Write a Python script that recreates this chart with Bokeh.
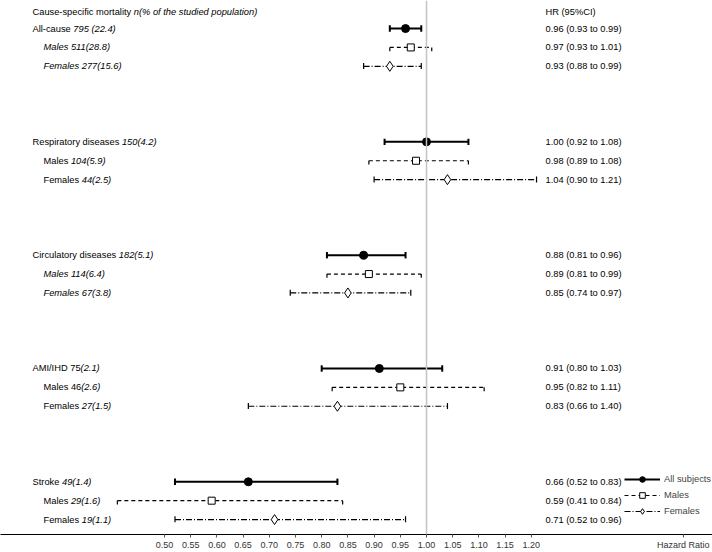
from bokeh.plotting import figure
from bokeh.models import (ColumnDataSource, Range1d, FixedTicker, NumeralTickFormatter,
                          Span, Legend, LegendItem)
from bokeh.core.properties import value
from bokeh.embed import file_html
from bokeh.resources import INLINE

# ---------------- data ----------------
groups = ["All-cause", "Respiratory diseases", "Circulatory diseases", "AMI/IHD", "Stroke"]

hr_all = [0.96, 1.00, 0.88, 0.91, 0.66]
lo_all = [0.93, 0.92, 0.81, 0.80, 0.52]
hi_all = [0.99, 1.08, 0.96, 1.03, 0.83]

hr_m = [0.97, 0.98, 0.89, 0.95, 0.59]
lo_m = [0.93, 0.89, 0.81, 0.82, 0.41]
hi_m = [1.01, 1.08, 0.99, 1.11, 0.84]

hr_f = [0.93, 1.04, 0.85, 0.83, 0.71]
lo_f = [0.88, 0.90, 0.74, 0.66, 0.52]
hi_f = [0.99, 1.21, 0.97, 1.04, 0.96]

ci_all = ["0.96 (0.93 to 0.99)", "1.00 (0.92 to 1.08)", "0.88 (0.81 to 0.96)",
          "0.91 (0.80 to 1.03)", "0.66 (0.52 to 0.83)"]
ci_m = ["0.97 (0.93 to 1.01)", "0.98 (0.89 to 1.08)", "0.89 (0.81 to 0.99)",
        "0.95 (0.82 to 1.11)", "0.59 (0.41 to 0.84)"]
ci_f = ["0.93 (0.88 to 0.99)", "1.04 (0.90 to 1.21)", "0.85 (0.74 to 0.97)",
        "0.83 (0.66 to 1.40)", "0.71 (0.52 to 0.96)"]

# row labels: (upright part, italic part)
lab_all = [("All-cause ", "795 (22.4)"), ("Respiratory diseases ", "150(4.2)"),
           ("Circulatory diseases ", "182(5.1)"), ("AMI/IHD 75", "(2.1)"), ("Stroke ", "49(1.4)")]
lab_m = [("", "Males 511(28.8)"), ("Males ", "104(5.9)"), ("", "Males 114(6.4)"),
         ("Males 46", "(2.6)"), ("Males ", "29(1.6)")]
lab_f = [("", "Females 277(15.6)"), ("Females ", "44(2.5)"), ("", "Females 67(3.8)"),
         ("Females ", "27(1.5)"), ("Females ", "19(1.1)")]

header_left = ("Cause-specific mortality ", "n(% of the studied population)")
header_right = "HR (95%CI)"
x_title = "Hazard Ratio"
legend_labels = ["All subjects", "Males", "Females"]
ticks = [0.50, 0.55, 0.60, 0.65, 0.70, 0.75, 0.80, 0.85, 0.90, 0.95, 1.00, 1.05, 1.10, 1.15, 1.20]
x_title_pos = 1.49

# ---------------- layout ----------------
W_PX, H_PX = 712, 552
PX_PER_UNIT = 524.0
X0 = 0.5 - 164 / PX_PER_UNIT
X1 = X0 + W_PX / PX_PER_UNIT
FRAME_H = 533
ROW_PX = 18.85
ROW1_PX = 28
Y_TOP = 1 - ROW1_PX / ROW_PX
Y_BOT = 1 + (FRAME_H - ROW1_PX) / ROW_PX
FS = 9.3
FONT = "Liberation Sans"

AW = {' ': 278, '(': 333, ')': 333, '%': 889, '-': 333, '.': 278, '/': 278,
      'A': 667, 'C': 722, 'D': 722, 'F': 611, 'H': 722, 'I': 278, 'M': 833, 'R': 722, 'S': 667,
      'a': 556, 'b': 556, 'c': 500, 'd': 556, 'e': 556, 'f': 278, 'g': 556, 'h': 556, 'i': 222,
      'j': 222, 'k': 500, 'l': 222, 'm': 833, 'n': 556, 'o': 556, 'p': 556, 'r': 333, 's': 500,
      't': 278, 'u': 556, 'v': 500, 'w': 722, 'x': 500, 'y': 500}


def tw(s):
    return sum(AW.get(c, 556) for c in s) * FS / 1000.0


p = figure(width=W_PX, height=H_PX, output_backend="svg", toolbar_location=None,
           x_range=Range1d(X0, X1), y_range=Range1d(Y_BOT, Y_TOP),
           min_border=0, min_border_left=0, min_border_right=0, min_border_top=0)
p.outline_line_color = None
p.grid.visible = False
p.yaxis.visible = False
p.background_fill_color = "white"

ax = p.xaxis[0]
ax.ticker = FixedTicker(ticks=ticks + [x_title_pos])
ax.formatter = NumeralTickFormatter(format="0.00")
ax.major_label_overrides = {x_title_pos: x_title}
ax.major_tick_in = 0
ax.major_tick_out = 3
ax.minor_tick_out = 0
ax.minor_tick_in = 0
ax.major_label_standoff = 2
ax.major_label_text_font = FONT
ax.major_label_text_font_size = "9px"
ax.major_label_text_color = "#333333"
ax.axis_line_color = "black"
ax.major_tick_line_color = "#555555"

p.add_layout(Span(location=1.0, dimension="height", line_color="#c4c4c4", line_width=1.5))

n = len(groups)
rows_all = [1 + 6 * i for i in range(n)]
rows_m = [2 + 6 * i for i in range(n)]
rows_f = [3 + 6 * i for i in range(n)]


def series(hr, lo, hi, rows, dash, lw, cap_lo, cap_hi, marker, msize, fill):
    src = ColumnDataSource(dict(hr=hr, lo=lo, hi=hi, y=rows))
    seg = p.segment(x0="lo", x1="hi", y0="y", y1="y", source=src, line_color="black",
                    line_width=lw, line_dash=dash)
    cx = list(lo) + list(hi)
    cy = list(rows) + list(rows)
    csrc = ColumnDataSource(dict(x=cx, y0=[r + cap_lo for r in cy], y1=[r + cap_hi for r in cy]))
    p.segment(x0="x", x1="x", y0="y0", y1="y1", source=csrc, line_color="black",
              line_width=lw, line_dash=dash)
    sc = p.scatter(x="hr", y="y", source=src, marker=marker, size=msize, fill_color=fill,
                   line_color="black", line_width=1)
    return seg, sc


seg_a, sc_a = series(hr_all, lo_all, hi_all, rows_all, "solid", 2, -0.17, 0.17, "circle", 8, "black")
seg_m, sc_m = series(hr_m, lo_m, hi_m, rows_m, "4 3", 1.2, 0.0, 0.2, "square", 7, "white")
seg_f, sc_f = series(hr_f, lo_f, hi_f, rows_f, "6 2 1 2", 1.2, -0.17, 0.17, "diamond", 10, "white")

# left labels
xs, ys, ts, xo, its, ixo = [], [], [], [], [], []
for labs, rows, indent in ((lab_all, rows_all, 32), (lab_m, rows_m, 43), (lab_f, rows_f, 43)):
    for (up, it), r in zip(labs, rows):
        xs.append(X0)
        ys.append(r)
        ts.append(up)
        xo.append(indent)
        its.append(it)
        ixo.append(indent + tw(up))
HEAD_Y = 1 - 17 / ROW_PX
xs.append(X0); ys.append(HEAD_Y); ts.append(header_left[0]); xo.append(32)
its.append(header_left[1]); ixo.append(32 + tw(header_left[0]))

lsrc = ColumnDataSource(dict(x=xs, y=ys, t=ts, xo=xo, it=its, ixo=ixo))
p.text(x="x", y="y", text="t", x_offset="xo", source=lsrc, text_font=value(FONT),
       text_font_size=f"{FS}px", text_baseline="middle", text_align="left", text_color="black")
p.text(x="x", y="y", text="it", x_offset="ixo", source=lsrc, text_font=value(FONT),
       text_font_size=f"{FS}px", text_font_style="italic", text_baseline="middle",
       text_align="left", text_color="black")

# right column
rx = [X0] * (3 * n + 1)
ry = rows_all + rows_m + rows_f + [HEAD_Y]
rt = ci_all + ci_m + ci_f + [header_right]
rsrc = ColumnDataSource(dict(x=rx, y=ry, t=rt))
p.text(x="x", y="y", text="t", x_offset=545, source=rsrc, text_font=value(FONT),
       text_font_size=f"{FS}px", text_baseline="middle", text_align="left", text_color="black")

legend = Legend(items=[LegendItem(label=legend_labels[0], renderers=[seg_a, sc_a], index=0),
                       LegendItem(label=legend_labels[1], renderers=[seg_m, sc_m], index=0),
                       LegendItem(label=legend_labels[2], renderers=[seg_f, sc_f], index=0)],
                location=(624, 16), orientation="vertical",
                label_text_font=FONT, label_text_font_size=f"{FS}px",
                label_height=14, glyph_height=14, glyph_width=36, spacing=2,
                padding=0, margin=0, label_standoff=4,
                background_fill_alpha=0, border_line_alpha=0)
p.add_layout(legend)

open("out.html", "w").write(file_html(p, INLINE))
